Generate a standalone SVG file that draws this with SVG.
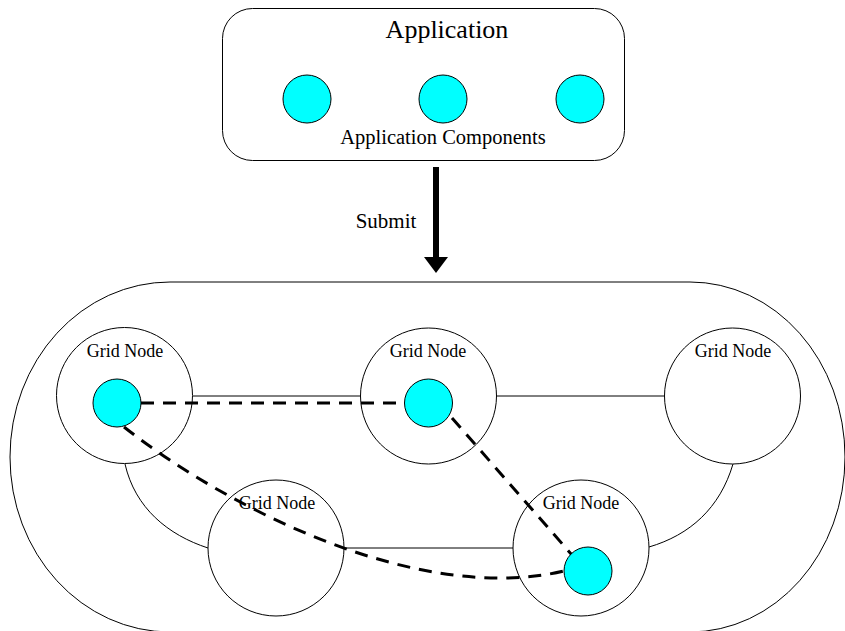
<svg xmlns="http://www.w3.org/2000/svg" width="845" height="631" viewBox="0 0 845 631">
<style>
.ol{fill:none;stroke:#000;stroke-width:1}
.gn{fill:#fff;stroke:#000;stroke-width:1}
.comp{fill:#00ffff;stroke:#000;stroke-width:1}
.link{fill:none;stroke:#000;stroke-width:1}
.dash{fill:none;stroke:#000;stroke-width:3;stroke-dasharray:13 9}
.t{font-family:"Liberation Serif","Times New Roman",serif;fill:#000;text-anchor:middle}
</style>
<rect width="845" height="631" fill="#fff"/>
<g id="application">
<rect x="222.5" y="8.5" width="402" height="152" rx="30" ry="30" class="ol"/>
<text x="447" y="38" class="t" font-size="26">Application</text>
<circle cx="307" cy="99" r="24" class="comp"/>
<circle cx="443" cy="99" r="24" class="comp"/>
<circle cx="580" cy="99" r="24" class="comp"/>
<text x="443" y="144" class="t" font-size="20.5">Application Components</text>
</g>
<g id="submit">
<rect x="433" y="167" width="6" height="92" fill="#000"/>
<polygon points="424,257 448,257 436,273" fill="#000"/>
<text x="386" y="228" class="t" font-size="21">Submit</text>
</g>
<g id="grid">
<path d="M170,282 H690 A155,175 0 0 1 690,632 H170 A160,175 0 0 1 170,282 Z" class="ol"/>
</g>
<g id="connectors">
<line x1="193" y1="396" x2="360" y2="396" class="link"/>
<line x1="497" y1="396" x2="664" y2="396" class="link"/>
<line x1="344" y1="548" x2="513" y2="548" class="link"/>
<path d="M125,464 C135,508 168,535 208,548" class="link"/>
<path d="M733,464 C720,508 690,535 649,547" class="link"/>
</g>
<g id="node1">
<circle cx="124.5" cy="395.5" r="68" class="gn"/>
<text x="125" y="357" class="t" font-size="18">Grid Node</text>
</g>
<g id="node2">
<circle cx="428.5" cy="396" r="68" class="gn"/>
<text x="428" y="357" class="t" font-size="18">Grid Node</text>
</g>
<g id="node3">
<circle cx="732.5" cy="396" r="68" class="gn"/>
<text x="733" y="357" class="t" font-size="18">Grid Node</text>
</g>
<g id="node4">
<circle cx="276" cy="548" r="68" class="gn"/>
<text x="277" y="509" class="t" font-size="18">Grid Node</text>
</g>
<g id="node5">
<circle cx="581" cy="548" r="68" class="gn"/>
<text x="581" y="509" class="t" font-size="18">Grid Node</text>
</g>
<g id="links">
<line x1="141" y1="403" x2="404" y2="403" class="dash"/>
<line x1="452" y1="418" x2="572" y2="555" class="dash"/>
<path d="M124,427 C230,510 420,605 564,571" class="dash"/>
</g>
<g id="components">
<circle cx="117" cy="403" r="24" class="comp"/>
<circle cx="428.5" cy="403" r="24" class="comp"/>
<circle cx="588" cy="571" r="24" class="comp"/>
</g>
</svg>
